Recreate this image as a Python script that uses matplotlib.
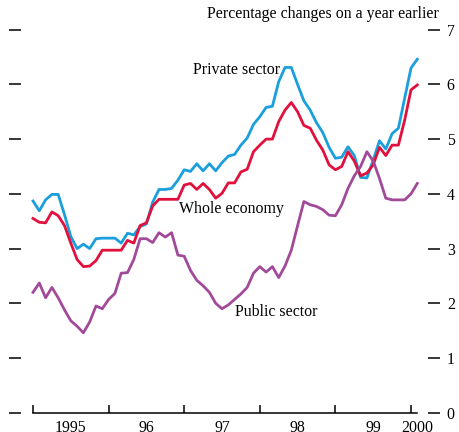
import numpy as np
import matplotlib
matplotlib.use('Agg')
import matplotlib.pyplot as plt

# monthly, Jan 1995 - Feb 2000, % change on a year earlier
private = [3.87, 3.69, 3.89, 3.99, 3.99, 3.62, 3.22, 3.00, 3.08, 3.00,
           3.18, 3.19, 3.19, 3.19, 3.10, 3.28, 3.25, 3.40, 3.45, 3.85,
           4.08, 4.08, 4.10, 4.25, 4.44, 4.41, 4.55, 4.42, 4.55, 4.42,
           4.57, 4.69, 4.72, 4.89, 5.02, 5.27, 5.41, 5.58, 5.60, 6.05,
           6.31, 6.31, 6.00, 5.70, 5.53, 5.30, 5.12, 4.85, 4.65, 4.67,
           4.86, 4.70, 4.30, 4.29, 4.62, 4.97, 4.82, 5.10, 5.20, 5.75,
           6.30, 6.46]
whole = [3.55, 3.48, 3.47, 3.67, 3.60, 3.42, 3.10, 2.80, 2.67, 2.68,
         2.78, 2.97, 2.97, 2.97, 2.97, 3.15, 3.10, 3.42, 3.47, 3.78,
         3.90, 3.90, 3.90, 3.90, 4.16, 4.19, 4.08, 4.19, 4.08, 3.92,
         4.01, 4.20, 4.20, 4.40, 4.45, 4.77, 4.89, 5.00, 5.00, 5.32,
         5.53, 5.67, 5.50, 5.25, 5.20, 4.98, 4.80, 4.53, 4.44, 4.50,
         4.77, 4.60, 4.33, 4.38, 4.53, 4.85, 4.70, 4.89, 4.89, 5.35,
         5.90, 5.99]
public = [2.20, 2.37, 2.10, 2.29, 2.10, 1.88, 1.68, 1.58, 1.46, 1.66,
          1.95, 1.90, 2.07, 2.18, 2.55, 2.56, 2.80, 3.18, 3.18, 3.11,
          3.29, 3.21, 3.29, 2.88, 2.86, 2.60, 2.42, 2.32, 2.20, 2.00,
          1.90, 1.97, 2.07, 2.17, 2.29, 2.55, 2.67, 2.57, 2.67, 2.47,
          2.68, 2.97, 3.42, 3.86, 3.80, 3.77, 3.71, 3.61, 3.60, 3.80,
          4.10, 4.33, 4.50, 4.77, 4.60, 4.28, 3.92, 3.89, 3.89, 3.89,
          4.00, 4.19]

year_starts = [0, 12, 24, 36, 48, 60]
year_labels = ['1995', '96', '97', '98', '99', '2000']
label_pos = [6, 18, 30, 42, 54, 61]

plt.rcParams['font.family'] = ['Liberation Serif', 'DejaVu Serif']
fs = 11.4

fig = plt.figure(figsize=(4.59, 4.32), dpi=100)
ax = fig.add_axes([21 / 459, 1 - 412.7 / 432, 407 / 459, 383 / 432])

months = np.arange(len(private))
ax.plot(months, private, color='#1a9fdc', lw=2.0)
ax.plot(months, whole, color='#e2103c', lw=2.0)
ax.plot(months, public, color='#a24a9a', lw=2.0)

ax.set_xlim(-12 / 6.3, 395 / 6.3)
ax.set_ylim(0, 7)

for s in ['top', 'left', 'right']:
    ax.spines[s].set_visible(False)
ax.spines['bottom'].set_bounds(months[0], months[-1])
ax.spines['bottom'].set_linewidth(1.1)

ax.set_xticks(year_starts)
ax.set_xticklabels([])
ax.set_xticks(label_pos, minor=True)
ax.set_xticklabels(year_labels, minor=True, fontsize=fs)
ax.tick_params(axis='x', which='major', direction='in', length=6, width=1.1)
ax.tick_params(axis='x', which='minor', length=0, pad=5)

ax.set_yticks(range(8))
ax.tick_params(axis='y', which='both', direction='out', length=8.5, width=1.1,
               left=True, right=True, labelleft=False, labelright=True,
               labelsize=fs, pad=5)

ax.text(25.4, 6.27, 'Private sector', fontsize=fs, va='center')
ax.text(23.2, 3.72, 'Whole economy', fontsize=fs, va='center')
ax.text(32.1, 1.84, 'Public sector', fontsize=fs, va='center')
fig.text(439 / 459, 1 - 14 / 432, 'Percentage changes on a year earlier',
         fontsize=fs, ha='right', va='center')

fig.savefig('out.png', dpi=100)
